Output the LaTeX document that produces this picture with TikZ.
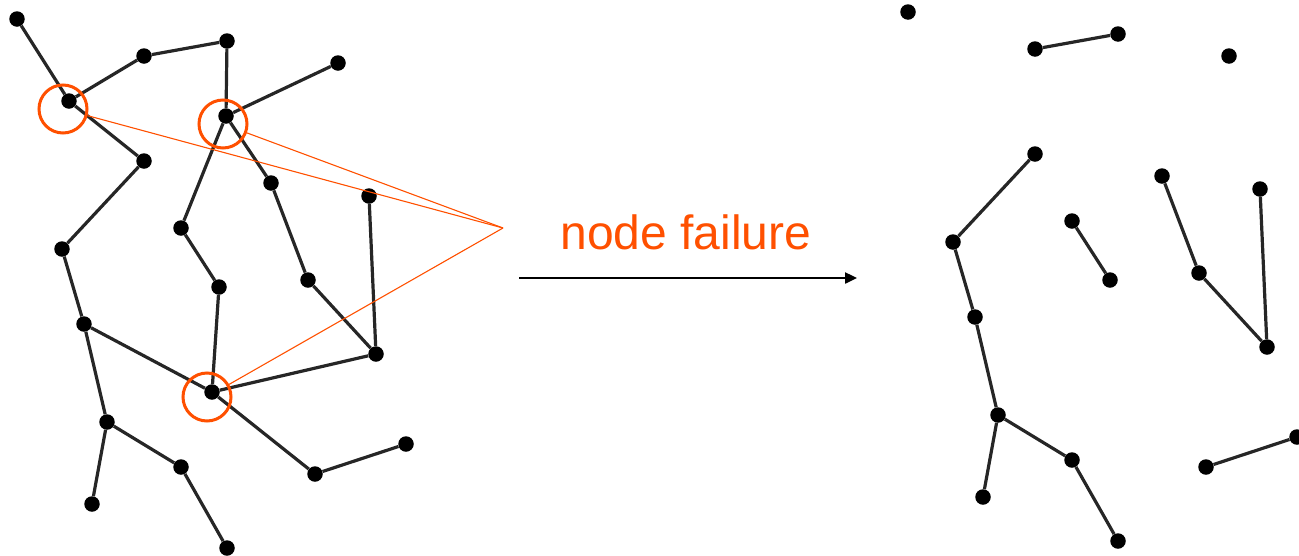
\documentclass[tikz,border=0pt]{standalone}
\usepackage{fontspec}
\setmainfont{Liberation Sans}
\usetikzlibrary{arrows.meta}
\definecolor{failorange}{RGB}{255,80,0}
\begin{document}
\begin{tikzpicture}[x=1pt,y=-1pt,
  vertex/.style={circle,fill=black,inner sep=0pt,minimum size=15.5pt},
  link/.style={line width=3.2pt,black!85},
  ring/.style={circle,draw=failorange,line width=3pt,minimum size=48pt,inner sep=0pt},
  pointer/.style={failorange,line width=1.1pt},
  flow/.style={line width=2.4pt,-{Triangle[length=12pt,width=11pt]}},
  caption/.style={text=failorange,font=\fontsize{48}{58}\selectfont,inner sep=0pt,anchor=base}
]
\useasboundingbox (0,0) rectangle (1299,555);

% vertices that survive the failure
\def\survivors{A/17/19, C/144/56, D/227/41, E/338/63, G/144/161, H/271/183,
  I/369/196, J/181/228, K/62/249, L/308/280, M/219/287, N/84/324, O/376/354,
  Q/107/422, R/181/467, S/315/474, T/406/444, U/92/504, V/227/548}

% network before the failure
\foreach \n/\x/\y in \survivors { \node[vertex] (\n) at (\x,\y) {}; }
\node[vertex] (B) at (69,101) {};
\node[vertex] (F) at (226,116) {};
\node[vertex] (P) at (212,392) {};

\foreach \a/\b in {A/B, B/C, C/D, D/F, F/E, B/G, G/K, K/N, N/P, F/J, J/M, M/P,
  F/H, H/L, L/O, I/O, O/P, P/S, S/T, N/Q, Q/U, Q/R, R/V}
  { \draw[link] (\a) -- (\b); }

% failing vertices and the label pointing at them
\node[ring] (ringB) at (63,109) {};
\node[ring] (ringF) at (223,124) {};
\node[ring] (ringP) at (207,397) {};
\coordinate (focus) at (503,228);
\draw[pointer] (ringB) -- (focus);
\draw[pointer] (ringF) -- (focus);
\draw[pointer] (ringP) -- (focus);

\node[caption] (label) at (686,249) {node failure};
\coordinate (flowstart) at (519,278);
\coordinate (flowend) at (857,278);
\draw[flow] (flowstart) -- (flowend);

% network after the failure
\begin{scope}[shift={(891,-7)}]
  \foreach \n/\x/\y in \survivors { \node[vertex] (after\n) at (\x,\y) {}; }
  \foreach \a/\b in {C/D, G/K, K/N, J/M, H/L, L/O, I/O, S/T, N/Q, Q/U, Q/R, R/V}
    { \draw[link] (after\a) -- (after\b); }
\end{scope}
\end{tikzpicture}
\end{document}
